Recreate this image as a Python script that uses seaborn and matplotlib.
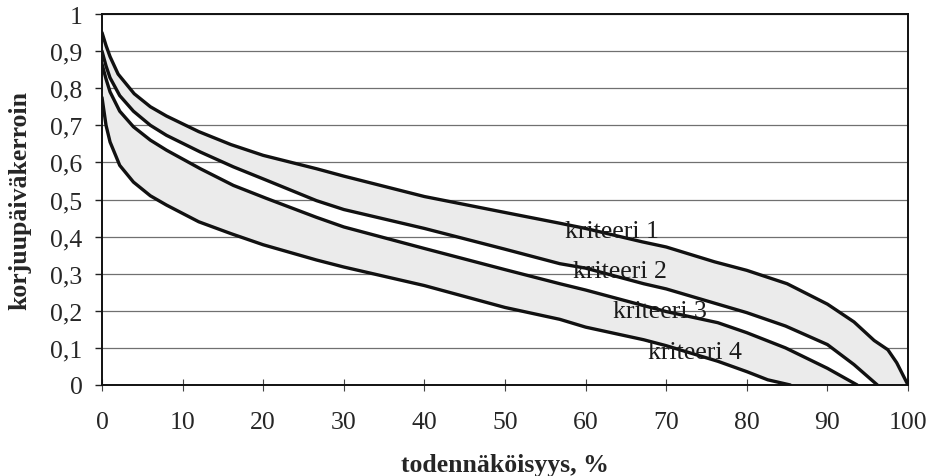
import matplotlib
matplotlib.use("Agg")
import matplotlib.pyplot as plt
import numpy as np
import pandas as pd
import seaborn as sns

# curves (x = todennäköisyys %, y = korjuupäiväkerroin)
X1 = [0, 0.5, 1, 2, 4, 6, 8, 12, 16, 20, 26.6, 30, 40, 50, 56.8, 60, 67, 70, 76, 80, 85, 90, 93.3, 95.8, 97.5, 98.6, 100]
Y1 = [0.95, 0.915, 0.885, 0.838, 0.785, 0.75, 0.725, 0.683, 0.648, 0.619, 0.583, 0.563, 0.508, 0.465, 0.436, 0.422, 0.386, 0.372, 0.332, 0.309, 0.273, 0.218, 0.17, 0.12, 0.095, 0.06, 0.0]

X2 = [0, 0.5, 1, 2.2, 3.9, 6, 8, 12.2, 16.3, 20.4, 26.6, 30, 40, 50, 56.8, 60, 67.2, 70, 76.4, 80, 84.8, 90, 93.3, 96.2]
Y2 = [0.90, 0.86, 0.828, 0.78, 0.738, 0.70, 0.673, 0.628, 0.588, 0.552, 0.497, 0.473, 0.422, 0.366, 0.327, 0.315, 0.273, 0.259, 0.218, 0.195, 0.159, 0.109, 0.055, 0.0]

X3 = [0, 0.5, 1, 2.2, 3.9, 6, 8, 12.2, 16.3, 20.4, 26.6, 30, 40, 50, 56.8, 60, 67.2, 70, 76.4, 80, 84.8, 90, 93.7]
Y3 = [0.865, 0.825, 0.79, 0.738, 0.696, 0.66, 0.633, 0.583, 0.538, 0.503, 0.452, 0.426, 0.368, 0.311, 0.273, 0.256, 0.214, 0.198, 0.168, 0.141, 0.10, 0.045, 0.0]

X4 = [0, 0.5, 1, 2.2, 3.9, 6, 8, 12, 16, 20, 26.6, 30, 40, 50, 56.8, 60, 67.2, 70, 76.4, 80, 82.6, 85.4]
Y4 = [0.775, 0.70, 0.655, 0.592, 0.547, 0.51, 0.485, 0.44, 0.408, 0.378, 0.337, 0.318, 0.268, 0.209, 0.177, 0.156, 0.122, 0.106, 0.064, 0.036, 0.014, 0.0]

CURVE_LABELS = ["kriteeri 1", "kriteeri 2", "kriteeri 3", "kriteeri 4"]
LABEL_X = [57.5, 58.4, 63.4, 67.7]
LABEL_Y = [0.415, 0.308, 0.20, 0.09]

XTICKS = list(range(0, 101, 10))
YTICKS = [0, 0.1, 0.2, 0.3, 0.4, 0.5, 0.6, 0.7, 0.8, 0.9, 1.0]
YTICK_LABELS = ["0", "0,1", "0,2", "0,3", "0,4", "0,5", "0,6", "0,7", "0,8", "0,9", "1"]


def main() -> None:
    sns.set_theme(style="white")
    plt.rcParams["font.family"] = ["Liberation Serif", "DejaVu Serif"]

    fig = plt.figure(figsize=(9.32, 4.77), dpi=100)
    ax = fig.add_axes([102 / 932, 1 - 386 / 477, 806 / 932, 371 / 477])

    # shaded bands: between kriteeri 1 & 2 and between kriteeri 3 & 4
    ax.fill(X1 + X2[::-1], Y1 + Y2[::-1], facecolor="#ebebeb", edgecolor="none", zorder=1)
    ax.fill(X3 + X4[::-1], Y3 + Y4[::-1], facecolor="#ebebeb", edgecolor="none", zorder=1)

    curves = pd.concat([
        pd.DataFrame({"x": xs, "y": ys, "k": lab})
        for xs, ys, lab in zip([X1, X2, X3, X4], [Y1, Y2, Y3, Y4], CURVE_LABELS)
    ])
    sns.lineplot(data=curves, x="x", y="y", units="k", estimator=None, sort=False,
                 color="#111111", linewidth=2.4, ax=ax, zorder=3,
                 solid_joinstyle="round", solid_capstyle="round")

    for lab, lx, ly in zip(CURVE_LABELS, LABEL_X, LABEL_Y):
        ax.text(lx, ly, lab, ha="left", va="center", fontsize=18.5, color="#1a1a1a", zorder=4)

    ax.set_xlim(0, 100)
    ax.set_ylim(0, 1)
    ax.set_xticks(XTICKS)
    ax.set_xticklabels([str(t) for t in XTICKS], fontsize=18.5)
    ax.set_yticks(YTICKS)
    ax.set_yticklabels(YTICK_LABELS, fontsize=18.5)
    ax.yaxis.grid(True, color="#707070", linewidth=0.9, zorder=0)
    ax.xaxis.grid(False)
    ax.set_axisbelow(True)

    ax.tick_params(axis="y", direction="out", length=5, width=1, left=True, color="#222222", pad=9)
    ax.tick_params(axis="x", direction="inout", length=8, width=0.8, bottom=True, color="#444444", pad=15)
    for s in ax.spines.values():
        s.set_color("#111111")
        s.set_linewidth(1.4)

    ax.set_xlabel("todennäköisyys, %", fontsize=18.5, fontweight="bold", labelpad=14)
    ax.set_ylabel("korjuupäiväkerroin", fontsize=18.5, fontweight="bold", labelpad=14)

    fig.savefig("out.png", dpi=100)


if __name__ == "__main__":
    main()
